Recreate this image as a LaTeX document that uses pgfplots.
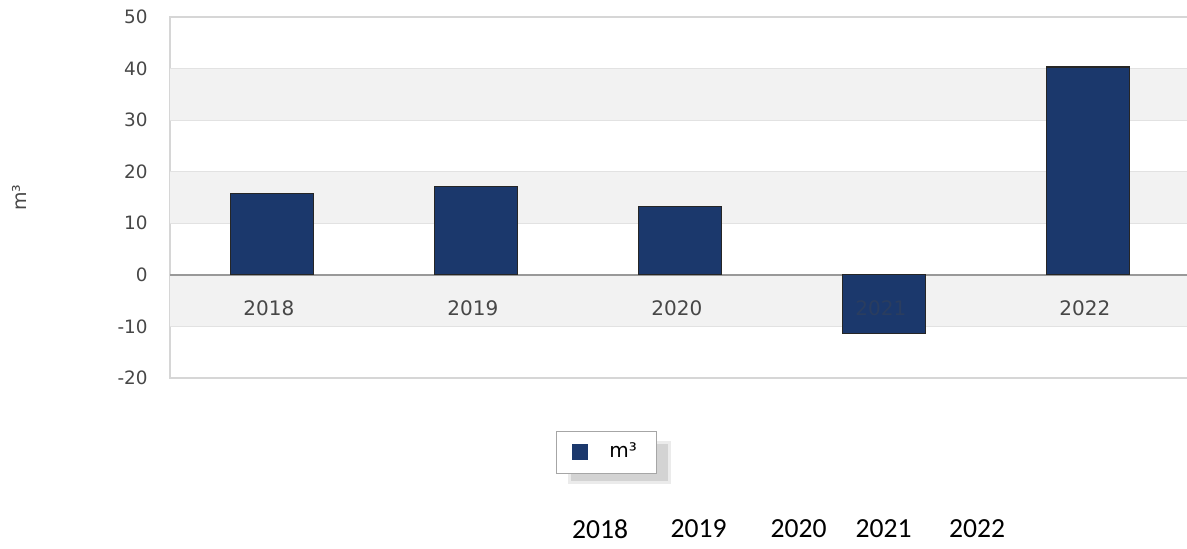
\documentclass[border=0pt]{standalone}
\usepackage{pgfplots}
\pgfplotsset{compat=1.18}
\usepackage{fontspec}
\setmainfont{DejaVu Sans}
\newfontfamily\carlito{Carlito}
\definecolor{barblue}{HTML}{1B386C}
\definecolor{band}{HTML}{F2F2F2}
\definecolor{gridc}{HTML}{E2E2E2}
\definecolor{framec}{HTML}{D6D6D6}
\definecolor{labc}{HTML}{474747}
\begin{document}
\begin{tikzpicture}
\useasboundingbox (0pt,0pt) rectangle (593.5pt,274.5pt);
% soft shadow behind the legend box
\fill[black, opacity=0.08] (284pt,32.5pt) rectangle (335.5pt,54pt);
\fill[black, opacity=0.10] (285.5pt,34pt) rectangle (334pt,52.5pt);
\begin{axis}[
  at={(85pt,85.5pt)}, anchor=south west,
  scale only axis, width=510pt, height=180.5pt,
  xmin=-0.5, xmax=4.5, ymin=-20, ymax=50,
  xtick=\empty,
  ytick={-20,-10,...,50},
  major tick length=0pt,
  axis line style={draw=framec, line width=0.8pt},
  /pgf/number format/assume math mode=true,
  yticklabel style={font=\fontsize{9.2}{11}\selectfont, text=labc, inner sep=0pt, xshift=-11pt},
  ylabel={m³},
  every axis y label/.style={at={(axis description cs:-0.148,0.5)}, rotate=90, anchor=center, font=\fontsize{9.5}{11}\selectfont, text=labc},
  legend style={at={(axis description cs:0.4275,-0.205)}, anchor=center, draw=gray!70, fill=white,
    font=\fontsize{10}{12}\selectfont, inner xsep=8pt, inner ysep=4.5pt,
    nodes={inner sep=1.5pt}},
  legend image code/.code={\fill[barblue] (0pt,-3.75pt) rectangle (7.5pt,3.75pt);},
]
\fill[band] (axis cs:-0.5,30) rectangle (axis cs:4.5,40);
\fill[band] (axis cs:-0.5,10) rectangle (axis cs:4.5,20);
\fill[band] (axis cs:-0.5,-10) rectangle (axis cs:4.5,0);
\foreach \yy in {-10,10,20,30,40} {
  \edef\tmp{\noexpand\draw[gridc, line width=0.6pt] (axis cs:-0.5,\yy) -- (axis cs:4.5,\yy);}\tmp
}
\draw[draw=gray!80, line width=0.8pt] (axis cs:-0.5,0) -- (axis cs:4.5,0);
\node[font=\fontsize{10}{12}\selectfont, text=labc] at (axis cs:-0.015,-6.4) {2018};
\node[font=\fontsize{10}{12}\selectfont, text=labc] at (axis cs:0.985,-6.4) {2019};
\node[font=\fontsize{10}{12}\selectfont, text=labc] at (axis cs:1.985,-6.4) {2020};
\node[font=\fontsize{10}{12}\selectfont, text=labc] at (axis cs:3.985,-6.4) {2022};
\addplot[ybar, bar width=0.41, fill=barblue, draw=black!85, line width=0.6pt]
  coordinates {(0,15.8) (1,17.1) (2,13.2) (3,-11.4) (4,40.3)};
\addlegendentry{\hspace*{9pt}m³}
\node[font=\fontsize{10}{12}\selectfont, text=labc!35!barblue] at (axis cs:2.985,-6.4) {2021};
\end{axis}
\begin{scope}[every node/.style={font=\carlito\fontsize{13.8}{16}\selectfont, text=black}]
\node at (300pt,10pt) {2018};
\node at (349.25pt,10pt) {2019};
\node at (399.25pt,10pt) {2020};
\node at (441.75pt,10pt) {2021};
\node at (488.5pt,10pt) {2022};
\end{scope}
\end{tikzpicture}
\end{document}
